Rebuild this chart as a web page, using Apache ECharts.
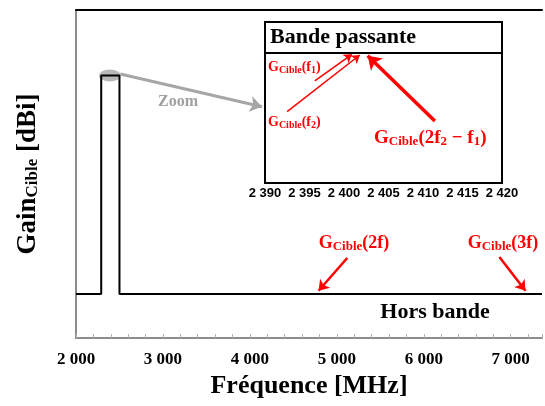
<!DOCTYPE html>
<html><head><meta charset="utf-8">
<script src="https://cdn.jsdelivr.net/npm/echarts@6/dist/echarts.min.js"></script>
<style>html,body{margin:0;padding:0;background:#fff}#c{width:545px;height:406px}</style>
</head><body><div id="c"></div>
<script>
// ---- data ----
const mainFreq = [2000, 2290, 2290, 2500, 2500, 7360];
const mainGain = [13.4, 13.4, 80, 80, 13.4, 13.4];
const mainTickLabels = [2000, 3000, 4000, 5000, 6000, 7000];
const insetTickLabels = [2390, 2395, 2400, 2405, 2410, 2415, 2420];
const zoomSpot = [2390, 80];
// arrows: [x0, y0, x1, y1] in data units
const arrowZoom = [2510, 80.5, 4140, 70.5];
const arrow2f = [5120, 24.4, 4790, 14.4];
const arrow3f = [6870, 24.7, 7170, 14.4];
const arrowF1 = [2396.3, 63.4, 2401.0, 79.9];
const arrowF2 = [2392.8, 44.3, 2402.0, 79.5];
const arrowIM = [2411.5, 38.5, 2403.0, 79.1];
const insetTitleLine = 80.6;

const SERIF = '"Liberation Serif", "Times New Roman", serif';
const SANS = '"Liberation Sans", Arial, sans-serif';
const RED = '#ff0000';

function fmtThousands(v, sep) {
  const s = String(Math.round(v));
  return s.slice(0, s.length - 3) + sep + s.slice(s.length - 3);
}
function richSub(size, subSize, color) {
  return {
    s: { fontFamily: SERIF, fontWeight: 'bold', fontSize: subSize, color: color, padding: [Math.round(subSize * 0.55), 0, 0, 0] }
  };
}
function arrowLine(a, color, width, head) {
  return [
    { coord: [a[0], a[1]], symbol: 'none', lineStyle: { color: color, width: width, type: 'solid' } },
    { coord: [a[2], a[3]], symbol: 'arrow', symbolSize: head }
  ];
}
function txt(x, y, text, size, subSize, color, align) {
  return {
    type: 'text', x: x, y: y, z: 100,
    style: {
      text: text, fill: color, fontFamily: SERIF, fontWeight: 'bold', fontSize: size,
      align: align, verticalAlign: 'middle', textAlign: align, textVerticalAlign: 'middle',
      rich: Object.assign({ n: { fontFamily: SERIF, fontWeight: 'bold', fontSize: size, color: color } }, richSub(size, subSize, color))
    }
  };
}

const chart = echarts.init(document.getElementById('c'), null, { renderer: 'canvas' });
chart.setOption({
  animation: false,
  backgroundColor: '#fff',
  grid: [
    { left: 76, right: 0, top: 10, bottom: 68 },
    { left: 265, right: 43, top: 22, bottom: 223, show: true, backgroundColor: '#fff', borderColor: '#000', borderWidth: 2, z: 5 }
  ],
  xAxis: [
    {
      gridIndex: 0, type: 'value', min: 2000, max: 7360, interval: 200,
      axisLine: { show: true, lineStyle: { color: '#8c8c8c', width: 2 } },
      axisTick: { show: true, inside: true, length: 4, lineStyle: { color: '#b0b0b0', width: 1 } },
      splitLine: { show: false },
      axisLabel: {
        margin: 13, fontFamily: SERIF, fontWeight: 'bold', fontSize: 17, color: '#000',
        formatter: v => mainTickLabels.indexOf(v) >= 0 ? fmtThousands(v, ' ') : ''
      },
      name: 'Fréquence [MHz]', nameLocation: 'middle', nameGap: 25,
      nameTextStyle: { fontFamily: SERIF, fontWeight: 'bold', fontSize: 26, color: '#000' }
    },
    {
      gridIndex: 0, type: 'value', position: 'top', min: 2000, max: 7360,
      axisLine: { show: true, lineStyle: { color: '#000', width: 2 } },
      axisTick: { show: false }, axisLabel: { show: false }, splitLine: { show: false }
    },
    {
      gridIndex: 1, type: 'value', min: 2390, max: 2420, interval: 1,
      axisLine: { show: true, lineStyle: { color: '#8c8c8c', width: 2 } },
      axisTick: { show: true, inside: true, length: 3, lineStyle: { color: '#b0b0b0', width: 1 } },
      splitLine: { show: false },
      axisLabel: {
        margin: 4, fontFamily: SANS, fontWeight: 'bold', fontSize: 13, color: '#000',
        showMinLabel: true, showMaxLabel: true,
        formatter: v => insetTickLabels.indexOf(v) >= 0 ? fmtThousands(v, ' ') : ''
      }
    }
  ],
  yAxis: [
    {
      gridIndex: 0, type: 'value', min: 0, max: 100,
      axisLine: { show: true, lineStyle: { color: '#8c8c8c', width: 2 } },
      axisTick: { show: false }, axisLabel: { show: false }, splitLine: { show: false },
      name: 'Gain{s|Cible} [dBi]', nameLocation: 'middle', nameGap: 34,
      nameTextStyle: { fontFamily: SERIF, fontWeight: 'bold', fontSize: 27, color: '#000', rich: richSub(27, 17, '#000') }
    },
    {
      gridIndex: 1, type: 'value', min: 0, max: 100, show: false
    }
  ],
  series: [
    {
      type: 'scatter', xAxisIndex: 0, yAxisIndex: 0, z: 1,
      data: [zoomSpot], symbol: 'circle', symbolSize: [22, 12],
      itemStyle: { color: '#a6a6a6' }, silent: true
    },
    {
      type: 'line', xAxisIndex: 0, yAxisIndex: 0, z: 2,
      data: mainFreq.map((f, i) => [f, mainGain[i]]),
      showSymbol: false, symbol: 'none',
      lineStyle: { color: '#000', width: 2 },
      markLine: {
        silent: true, animation: false, label: { show: false },
        data: [
          arrowLine(arrowZoom, '#a6a6a6', 3, 12),
          arrowLine(arrow2f, RED, 2.5, 10),
          arrowLine(arrow3f, RED, 2.5, 10)
        ]
      }
    },
    {
      type: 'line', xAxisIndex: 2, yAxisIndex: 1, z: 10,
      data: [], showSymbol: false,
      markLine: {
        silent: true, animation: false, label: { show: false },
        data: [
          [{ coord: [2390, insetTitleLine], symbol: 'none', lineStyle: { color: '#000', width: 2, type: 'solid' } }, { coord: [2420, insetTitleLine], symbol: 'none' }],
          arrowLine(arrowF1, RED, 1.5, 8),
          arrowLine(arrowF2, RED, 1.5, 8),
          arrowLine(arrowIM, RED, 3.5, 13)
        ]
      }
    }
  ],
  graphic: [
    txt(270, 37, 'Bande passante', 22, 15, '#000', 'left'),
    txt(268, 67, 'G{s|Cible}(f{s|1})', 14, 10, RED, 'left'),
    txt(268, 122, 'G{s|Cible}(f{s|2})', 14, 10, RED, 'left'),
    txt(374, 138, 'G{s|Cible}(2f{s|2} − f{s|1})', 19, 13, RED, 'left'),
    txt(354, 243, 'G{s|Cible}(2f)', 18, 13, RED, 'center'),
    txt(503, 243, 'G{s|Cible}(3f)', 18, 13, RED, 'center'),
    txt(435, 312, 'Hors bande', 22, 15, '#000', 'center'),
    txt(178, 102, 'Zoom', 16, 11, '#a0a0a0', 'center')
  ]
});
</script></body></html>
